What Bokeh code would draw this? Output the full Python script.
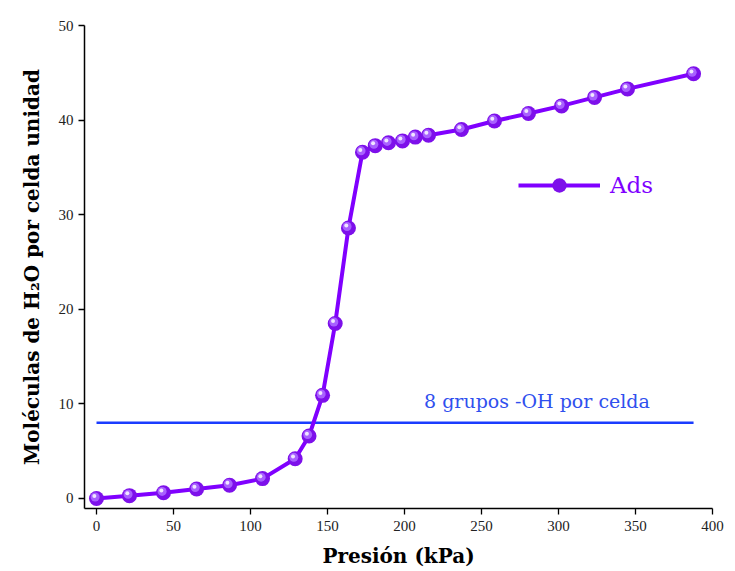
import numpy as np
from bokeh.plotting import figure
from bokeh.models import Range1d, Legend, LegendItem, Label
from bokeh.embed import file_html
from bokeh.resources import INLINE

# Data
presion = [0, 21.4, 43.5, 65, 86.4, 107.8, 129, 138, 146.8, 155, 163.6, 172.7,
           181, 189.6, 198.7, 207, 215.6, 237, 258.4, 280.5, 302, 323.4, 344.8, 387.7]
moleculas = [0.0, 0.3, 0.6, 1.0, 1.4, 2.1, 4.2, 6.6, 10.9, 18.5, 28.6, 36.6,
             37.3, 37.6, 37.8, 38.2, 38.4, 39.0, 39.9, 40.7, 41.5, 42.4, 43.3, 44.9]
oh_level = 8
x_ticks = [0, 50, 100, 150, 200, 250, 300, 350, 400]
y_ticks = [0, 10, 20, 30, 40, 50]

TICK_FONT = "Liberation Serif"
FONT = "DejaVu Serif"
PURPLE = "#8000ff"
BLUE = "#1a3cff"

p = figure(width=735, height=571, output_backend="svg", toolbar_location=None,
           x_range=Range1d(-7.8, 400), y_range=Range1d(-1.06, 50),
           min_border_left=84, min_border_right=23, min_border_top=25, min_border_bottom=63)
p.outline_line_color = None
p.xgrid.visible = False
p.ygrid.visible = False
p.background_fill_color = "white"
p.border_fill_color = "white"

for ax in (p.xaxis[0], p.yaxis[0]):
    ax.axis_line_width = 1.5
    ax.axis_line_color = "black"
    ax.major_tick_in = 0
    ax.major_tick_out = 6
    ax.minor_tick_in = 0
    ax.minor_tick_out = 6
    ax.major_tick_line_width = 1.3
    ax.minor_tick_line_width = 1.3
    ax.major_label_text_font = TICK_FONT
    ax.major_label_text_font_size = "15px"
    ax.major_label_text_color = "#222222"
    ax.axis_label_text_font = FONT
    ax.axis_label_text_font_style = "bold"
    ax.axis_label_text_font_size = "20px"
    ax.axis_label_text_color = "black"

p.xaxis.ticker = x_ticks
p.yaxis.ticker = y_ticks
p.xaxis[0].ticker.num_minor_ticks = 2
p.yaxis[0].ticker.num_minor_ticks = 2
p.xaxis.axis_label = "Presión (kPa)"
p.yaxis.axis_label = "Moléculas de H₂O por celda unidad"
p.xaxis.major_label_standoff = 6
p.yaxis.major_label_standoff = 5
p.xaxis.axis_label_standoff = 10
p.yaxis.axis_label_standoff = 12

# Reference line
p.line([presion[0], presion[-1]], [oh_level, oh_level], line_color=BLUE, line_width=2.5)
p.add_layout(Label(x=286, y=9.1, text="8 grupos -OH por celda", text_align="center",
                   text_font=FONT, text_font_size="19px", text_color="#3050ee"))

# Curve
x = np.array(presion)
y = np.array(moleculas)
ln = p.line(x, y, line_color=PURPLE, line_width=4)
sc = p.scatter(x, y, size=15, fill_color="#7d10ea", line_color=None)
p.scatter(x - 0.9, y + 0.15, size=9, fill_color="#a860ff", line_color=None)
p.scatter(x - 1.4, y + 0.25, size=4, fill_color="#f0e6ff", line_color=None)

legend = Legend(items=[LegendItem(label="Ads", renderers=[ln, sc])],
                location=(434, 305), glyph_width=82, glyph_height=36,
                label_text_font=FONT, label_text_font_size="23px", label_text_color=PURPLE,
                label_standoff=10, padding=0, spacing=0, margin=0,
                background_fill_alpha=0, border_line_color=None)
p.add_layout(legend, "center")

open("out.html", "w").write(file_html(p, INLINE))
